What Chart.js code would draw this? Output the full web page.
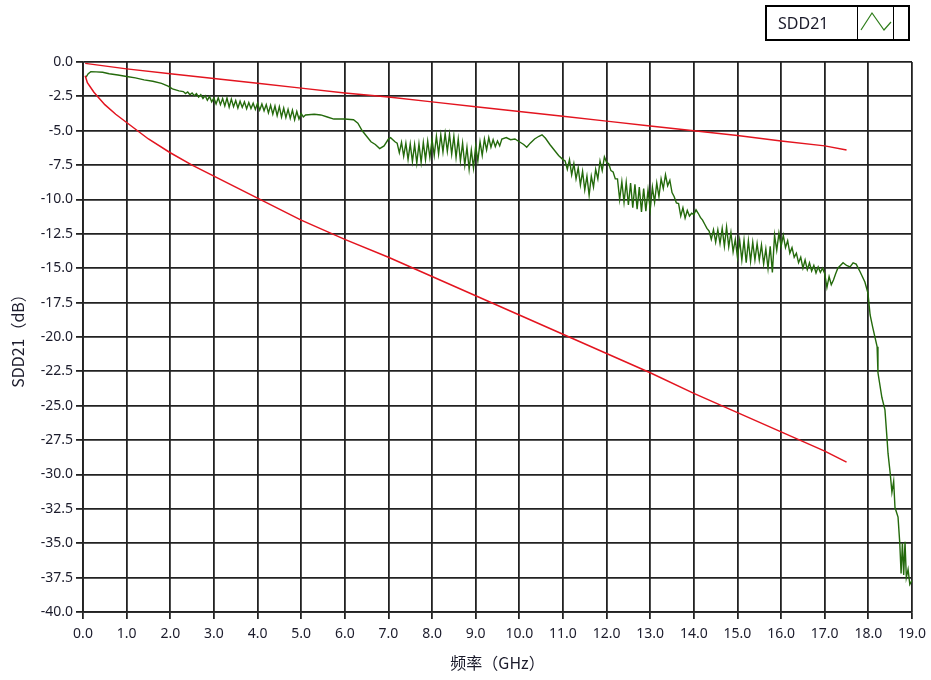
<!DOCTYPE html>
<html>
<head>
<meta charset="utf-8">
<script src="https://cdn.jsdelivr.net/npm/chart.js@4"></script>
<style>
html,body{margin:0;padding:0;background:#fff;}
#wrap{position:relative;width:931px;height:680px;}
</style>
</head>
<body>
<div id="wrap"><canvas id="c" width="931" height="680"></canvas></div>
<script>
// ---- data (frequency in GHz, value in dB) ----
const seriesName = "SDD21";
const xTitle = "频率（GHz）";
const yTitle = "SDD21（dB）";
const xTicks = [0,1,2,3,4,5,6,7,8,9,10,11,12,13,14,15,16,17,18,19];
const yTicks = [0,-2.5,-5,-7.5,-10,-12.5,-15,-17.5,-20,-22.5,-25,-27.5,-30,-32.5,-35,-37.5,-40];

const upperLimit = [
  [0.05,-0.1],[1,-0.5],[2,-0.85],[3,-1.2],[4,-1.55],[5,-1.9],[6,-2.25],[7,-2.55],
  [8,-2.9],[9,-3.25],[10,-3.6],[11,-3.95],[12,-4.3],[13,-4.65],[14,-5.0],[15,-5.35],
  [16,-5.75],[17,-6.1],[17.5,-6.4]
];

const lowerLimit = [
  [0.05,-1.0],[0.1,-1.5],[0.25,-2.2],[0.5,-3.1],[0.75,-3.8],[1.0,-4.4],[1.5,-5.6],
  [2.0,-6.6],[2.5,-7.5],[3.0,-8.3],[3.5,-9.1],[4.0,-9.9],[5.0,-11.5],[6.0,-12.9],
  [7.0,-14.2],[8.0,-15.6],[9.0,-17.0],[10.0,-18.4],[11.0,-19.8],[12.0,-21.2],
  [13.0,-22.6],[14.0,-24.1],[15.0,-25.5],[16.0,-26.9],[17.0,-28.3],[17.5,-29.1]
];

const sdd21 = [
  [0.07,-1.1],[0.12,-0.85],[0.18,-0.7],[0.3,-0.72],[0.45,-0.75],[0.6,-0.85],[0.8,-0.95],
  [1.0,-1.05],[1.2,-1.15],[1.4,-1.3],[1.6,-1.4],[1.8,-1.55],[1.95,-1.75],[2.05,-1.95],[2.2,-2.1],
  [2.30,-2.15],[2.35,-2.30],[2.40,-2.18],[2.45,-2.38],[2.50,-2.25],[2.55,-2.45],[2.60,-2.30],
  [2.65,-2.55],[2.70,-2.38],[2.75,-2.65],[2.80,-2.45],[2.85,-2.78],[2.90,-2.50],[2.95,-2.90],
  [3.00,-2.62],[3.05,-3.05],[3.10,-2.60],[3.15,-3.10],[3.20,-2.65],[3.25,-3.20],[3.30,-2.62],
  [3.35,-3.28],[3.40,-2.70],[3.45,-3.25],[3.50,-2.80],[3.55,-3.35],[3.60,-2.85],[3.65,-3.30],
  [3.70,-2.90],[3.75,-3.40],[3.80,-2.95],[3.85,-3.38],[3.90,-3.00],[3.95,-3.45],[4.00,-3.00],
  [4.05,-3.50],[4.10,-3.05],[4.15,-3.55],[4.20,-3.10],[4.25,-3.70],[4.30,-3.15],[4.35,-3.80],
  [4.40,-3.20],[4.45,-3.90],[4.50,-3.25],[4.55,-4.00],[4.60,-3.35],[4.65,-4.05],[4.70,-3.45],
  [4.75,-4.10],[4.80,-3.50],[4.85,-4.20],[4.90,-3.60],[4.95,-4.15],[5.00,-3.75],[5.05,-4.00],
  [5.1,-3.85],[5.3,-3.8],[5.45,-3.85],[5.6,-4.0],[5.75,-4.15],[6.0,-4.15],[6.2,-4.2],[6.3,-4.45],
  [6.4,-5.0],[6.5,-5.4],[6.6,-5.8],[6.7,-6.0],[6.8,-6.3],[6.9,-6.1],[7.0,-5.6],[7.05,-5.5],[7.15,-5.8],
  [7.20,-5.90],[7.25,-6.60],[7.30,-5.85],[7.35,-6.85],[7.40,-5.90],[7.45,-7.10],[7.50,-5.95],
  [7.55,-7.25],[7.60,-6.00],[7.65,-7.35],[7.70,-5.95],[7.75,-7.30],[7.80,-5.85],[7.85,-7.10],
  [7.90,-5.75],[7.95,-6.95],[8.00,-5.65],[8.05,-6.80],[8.10,-5.40],[8.15,-6.70],[8.20,-5.30],
  [8.25,-6.55],[8.30,-5.20],[8.35,-6.50],[8.40,-5.25],[8.45,-6.70],[8.50,-5.40],[8.55,-6.95],
  [8.60,-5.60],[8.65,-7.20],[8.70,-5.90],[8.75,-7.50],[8.80,-6.20],[8.85,-7.80],[8.90,-6.40],
  [8.95,-7.70],[9.00,-6.10],[9.05,-7.20],[9.10,-5.80],[9.15,-6.80],[9.20,-5.60],[9.25,-6.40],
  [9.30,-5.50],[9.35,-6.20],[9.40,-5.65],[9.45,-6.15],[9.50,-5.75],[9.55,-6.10],[9.60,-5.60],
  [9.7,-5.5],[9.8,-5.65],[9.9,-5.6],[10.0,-5.8],[10.1,-6.0],[10.17,-6.2],[10.25,-5.9],
  [10.35,-5.6],[10.45,-5.4],[10.52,-5.3],[10.6,-5.55],[10.7,-6.0],[10.8,-6.4],[10.9,-6.8],[11.0,-7.1],
  [11.05,-7.20],[11.10,-7.80],[11.15,-7.10],[11.20,-8.20],[11.25,-7.40],[11.30,-8.50],[11.35,-7.70],
  [11.40,-8.95],[11.45,-7.95],[11.50,-9.30],[11.55,-8.30],[11.60,-9.70],[11.65,-8.30],[11.70,-9.10],
  [11.75,-7.80],[11.80,-8.50],[11.85,-7.20],[11.90,-7.90],[11.95,-6.90],[12.00,-7.30],[12.05,-7.40],
  [12.10,-7.90],[12.15,-8.00],[12.20,-8.50],[12.25,-8.50],[12.30,-10.00],[12.35,-8.70],[12.40,-10.20],
  [12.45,-8.75],[12.50,-10.40],[12.55,-8.80],[12.60,-10.60],[12.65,-8.90],[12.70,-10.70],[12.75,-9.10],
  [12.80,-10.90],[12.85,-9.20],[12.90,-10.85],[12.95,-9.30],[13.00,-10.75],[13.05,-9.10],[13.10,-10.20],
  [13.15,-8.80],[13.20,-9.80],[13.25,-8.50],[13.30,-9.20],[13.35,-8.20],[13.40,-9.00],[13.45,-8.60],
  [13.50,-9.50],[13.55,-9.80],[13.60,-10.25],[13.65,-10.30],[13.70,-11.20],[13.75,-10.60],[13.80,-11.35],
  [13.85,-10.80],[13.90,-11.20],[13.95,-11.00],[14.00,-11.10],[14.05,-10.75],[14.10,-11.00],[14.15,-11.30],
  [14.20,-11.50],[14.25,-11.80],[14.30,-12.10],
  [14.35,-12.30],[14.40,-12.90],[14.45,-12.20],[14.50,-13.10],[14.55,-12.20],[14.60,-13.20],[14.65,-12.10],
  [14.70,-13.40],[14.75,-12.00],[14.80,-13.45],[14.85,-12.40],[14.90,-13.80],[14.95,-12.90],[15.00,-14.20],
  [15.05,-12.95],[15.10,-14.40],[15.15,-12.95],[15.20,-14.60],[15.25,-13.00],[15.30,-14.50],[15.35,-13.10],
  [15.40,-14.40],[15.45,-13.20],[15.50,-14.40],[15.55,-13.30],[15.60,-14.70],[15.65,-13.60],[15.70,-15.00],
  [15.75,-13.40],[15.80,-15.30],[15.85,-12.60],[15.90,-13.70],[15.95,-12.45],[16.00,-13.40],[16.05,-12.60],
  [16.10,-13.50],[16.15,-13.00],[16.20,-13.90],[16.25,-13.50],[16.30,-14.20],[16.35,-13.90],[16.40,-14.60],
  [16.45,-14.20],[16.50,-15.00],[16.55,-14.40],[16.60,-15.10],[16.65,-14.60],[16.70,-15.20],[16.75,-14.80],
  [16.80,-15.35],[16.85,-14.90],[16.90,-15.30],[16.95,-15.00],[17.00,-15.40],[17.05,-16.40],[17.10,-15.60],
  [17.15,-16.20],[17.20,-15.85],[17.25,-15.40],[17.30,-15.00],
  [17.42,-14.6],[17.5,-14.8],[17.58,-14.9],[17.65,-14.6],[17.72,-14.7],[17.81,-15.25],[17.92,-16.0],
  [17.99,-16.8],[18.04,-18.4],[18.1,-19.3],[18.2,-20.7],[18.22,-22.6],[18.31,-24.4],[18.38,-25.3],
  [18.43,-27.5],[18.45,-28.45],[18.5,-29.9],[18.54,-31.3],[18.58,-30.5],[18.61,-32.4],[18.68,-33.1],
  [18.72,-35.0],[18.75,-37.2],[18.78,-35.0],[18.81,-37.3],[18.84,-34.9],[18.87,-37.5],[18.91,-36.9],
  [18.95,-38.0],[19.0,-37.7]
];

const toPts = arr => arr.map(p => ({x: p[0], y: p[1]}));

const legendPlugin = {
  id: 'boxLegend',
  afterDraw(chart) {
    const ctx = chart.ctx;
    ctx.save();
    ctx.fillStyle = '#fff';
    ctx.fillRect(766, 6, 143, 34);
    ctx.strokeStyle = '#000';
    ctx.lineWidth = 2;
    ctx.strokeRect(766, 6, 143, 34);
    ctx.lineWidth = 1;
    ctx.beginPath();
    ctx.moveTo(857.5, 7); ctx.lineTo(857.5, 39);
    ctx.moveTo(893.5, 7); ctx.lineTo(893.5, 39);
    ctx.stroke();
    ctx.fillStyle = '#1a1a2a';
    ctx.font = '16px "Noto Sans", sans-serif';
    ctx.textBaseline = 'middle';
    ctx.textAlign = 'left';
    ctx.fillText(seriesName, 778, 24);
    ctx.strokeStyle = '#2e7d1a';
    ctx.lineWidth = 1.2;
    ctx.beginPath();
    ctx.moveTo(861, 30); ctx.lineTo(872, 13); ctx.lineTo(884, 30); ctx.lineTo(891, 22);
    ctx.stroke();
    ctx.restore();
  }
};

const tickFont = {family: '"Noto Sans", sans-serif', size: 14};
const gridStyle = {color: '#222', lineWidth: 1.8, tickLength: 7, drawTicks: true};

new Chart(document.getElementById('c'), {
  type: 'scatter',
  data: {
    datasets: [
      {label: 'upper', data: toPts(upperLimit), showLine: true, borderColor: '#e3141f', borderWidth: 1.5, pointRadius: 0, tension: 0},
      {label: 'lower', data: toPts(lowerLimit), showLine: true, borderColor: '#e3141f', borderWidth: 1.5, pointRadius: 0, tension: 0},
      {label: seriesName, data: toPts(sdd21), showLine: true, borderColor: '#246a0c', borderWidth: 1.4, pointRadius: 0, tension: 0}
    ]
  },
  options: {
    responsive: false,
    animation: false,
    layout: {padding: {top: 62, right: 19, left: 0, bottom: 0}},
    plugins: {legend: {display: false}, tooltip: {enabled: false}},
    scales: {
      x: {
        type: 'linear', min: 0, max: 19,
        afterBuildTicks: s => { s.ticks = xTicks.map(v => ({value: v})); },
        afterFit: s => { s.height = 68; s.paddingLeft = 0; s.paddingRight = 0; },
        ticks: {font: tickFont, color: '#1c1c2c', padding: 7, maxRotation: 0, callback: v => Number(v).toFixed(1)},
        grid: gridStyle,
        border: {display: true, color: '#222', width: 1.8},
        title: {display: true, text: xTitle, font: {family: '"Noto Sans CJK SC", "Noto Sans", sans-serif', size: 16}, color: '#1c1c2c', padding: {top: 0, bottom: 7}}
      },
      y: {
        type: 'linear', min: -40, max: 0,
        afterBuildTicks: s => { s.ticks = yTicks.map(v => ({value: v})); },
        afterFit: s => { s.width = 83; s.paddingTop = 0; s.paddingBottom = 0; },
        ticks: {font: tickFont, color: '#1c1c2c', padding: 3, callback: v => Number(v).toFixed(1)},
        grid: gridStyle,
        border: {display: true, color: '#222', width: 1.8},
        title: {display: true, text: yTitle, font: {family: '"Noto Sans CJK SC", "Noto Sans", sans-serif', size: 16}, color: '#1c1c2c', padding: {top: 8, bottom: 0}}
      }
    }
  },
  plugins: [legendPlugin]
});
</script>
</body>
</html>
